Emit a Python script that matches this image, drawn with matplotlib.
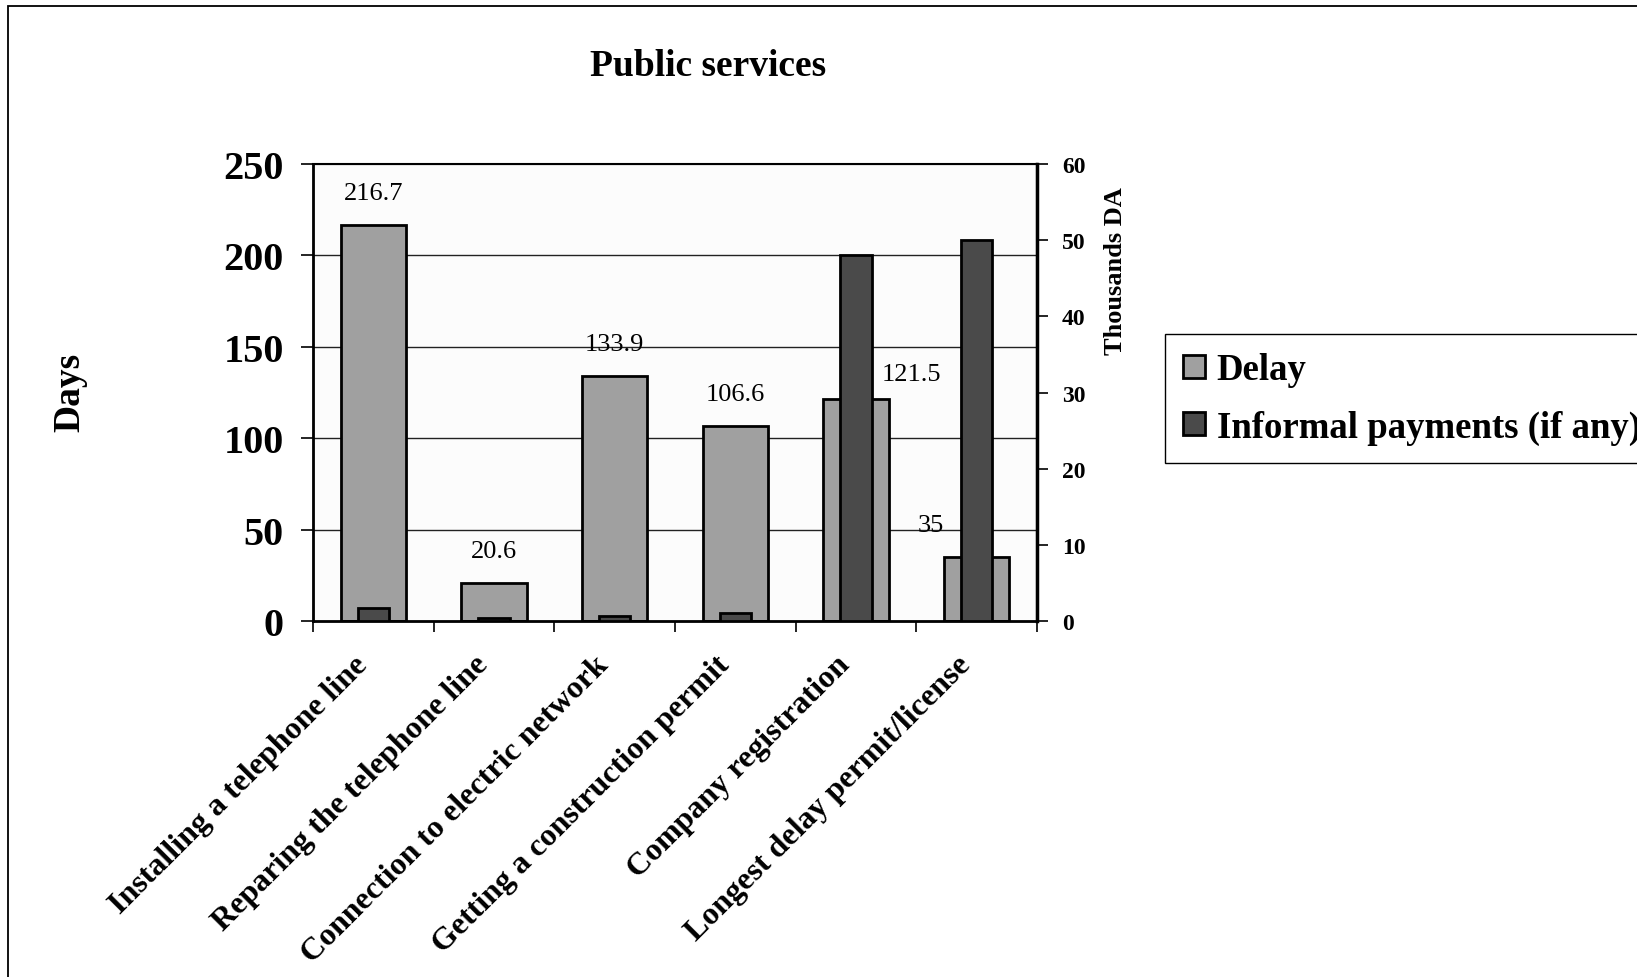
import numpy as np
import matplotlib.pyplot as plt
from matplotlib.patches import Rectangle
from matplotlib.transforms import ScaledTranslation

plt.rcParams['font.family'] = ['Liberation Serif', 'DejaVu Serif']

# data
categories = ['Installing a telephone line', 'Reparing the telephone line',
              'Connection to electric network', 'Getting a construction permit',
              'Company registration', 'Longest delay permit/license']
delay_days = [216.7, 20.6, 133.9, 106.6, 121.5, 35]
informal_kda = [1.7, 0.4, 0.7, 1.1, 48, 50]
delay_labels = ['216.7', '20.6', '133.9', '106.6', '121.5', '35']
left_ticks = [0, 50, 100, 150, 200, 250]
right_ticks = [0, 10, 20, 30, 40, 50, 60]

W, H = 1637, 978
fig = plt.figure(figsize=(W / 100, H / 100), dpi=100)
fig.patch.set_facecolor('white')

# outer frame of the chart
fig.patches.append(Rectangle((8 / W, -0.1), 1.2, 1 - 7 / H + 0.1, transform=fig.transFigure,
                             fill=False, edgecolor='black', linewidth=1.3))

ax = fig.add_axes([313 / W, 1 - 622 / H, (1037 - 313) / W, (622 - 165) / H])
ax.set_facecolor('#fcfcfc')
x = np.arange(len(categories))

ax.bar(x, delay_days, width=0.54, color='#a0a0a0', edgecolor='black', linewidth=2, zorder=2,
       label='Delay')
ax.set_ylim(0, 250)
ax.set_xlim(-0.5, len(categories) - 0.5)
ax.set_yticks(left_ticks)
ax.set_yticklabels([str(t) for t in left_ticks], fontsize=29, fontweight='bold')
for t in left_ticks[1:-1]:
    ax.axhline(t, color='#222222', linewidth=1, zorder=1)

# x ticks at category boundaries, labels at centres
ax.set_xticks(np.arange(len(categories) + 1) - 0.5)
ax.set_xticklabels([])
ax.set_xticks(x, minor=True)
ax.set_xticklabels(categories, minor=True, rotation=45, ha='right', va='center',
                   rotation_mode='anchor', fontsize=23, fontweight='bold')
ax.tick_params(axis='x', which='minor', length=0, pad=28)
ax.tick_params(axis='x', which='major', length=8, width=1.2)
ax.tick_params(axis='y', length=9, width=1.2, pad=12)
shift = ScaledTranslation(-7.5 / 72, 0, fig.dpi_scale_trans)
for lbl in ax.get_xticklabels(minor=True):
    lbl.set_transform(lbl.get_transform() + shift)

for s in ax.spines.values():
    s.set_linewidth(1.5)
    s.set_color('black')
ax.spines['left'].set_linewidth(2)
ax.spines['bottom'].set_linewidth(2)

ax2 = ax.twinx()
ax2.bar(x, informal_kda, width=0.26, color='#4a4a4a', edgecolor='black', linewidth=2, zorder=3,
        label='Informal payments (if any)')
ax2.set_ylim(0, 60)
ax2.set_yticks(right_ticks)
ax2.set_yticklabels([str(t) for t in right_ticks], fontsize=17, fontweight='bold')
ax2.tick_params(axis='y', length=8, width=1.2, pad=10)
ax2.spines['right'].set_linewidth(2.5)

# data labels for the delay bars
offsets = [(0, 23), (0, 23), (0, 23), (0, 23), (40, 18), (-33, 23)]
for xi, v, lab, off in zip(x, delay_days, delay_labels, offsets):
    ax2.annotate(lab, xy=(xi, v * 60 / 250), xytext=off, textcoords='offset points',
                 ha='center', va='center', fontsize=19, zorder=5)

fig.text(708 / W, 1 - 66 / H, 'Public services', ha='center', va='center',
         fontsize=27, fontweight='bold')
fig.text(70 / W, 1 - 392 / H, 'Days', ha='center', va='center', rotation=90,
         fontsize=27, fontweight='bold')
fig.text(1115 / W, 1 - 271 / H, 'Thousands DA', ha='center', va='center', rotation=90,
         fontsize=19, fontweight='bold')

h1, l1 = ax.get_legend_handles_labels()
h2, l2 = ax2.get_legend_handles_labels()
leg = fig.legend(h1 + h2, l1 + l2, loc='upper left', bbox_to_anchor=(1165 / W, 1 - 335 / H),
                 frameon=True, fancybox=False, edgecolor='black', framealpha=1,
                 prop={'family': 'Liberation Serif', 'weight': 'bold', 'size': 26.5},
                 handlelength=0.6, handleheight=0.6, handletextpad=0.3, labelspacing=0.6,
                 borderaxespad=0, borderpad=0.5)
leg.get_frame().set_linewidth(1)

fig.savefig('out.png', dpi=100)
